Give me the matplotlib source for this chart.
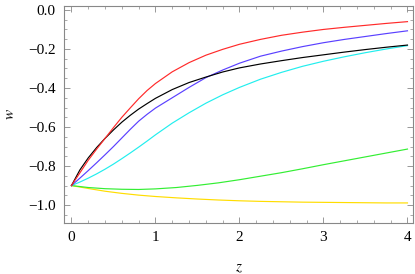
import numpy as np
import matplotlib.pyplot as plt
from matplotlib.ticker import MultipleLocator

plt.rcParams['font.family'] = ['Liberation Serif', 'DejaVu Serif']
plt.rcParams['mathtext.fontset'] = 'stix'

# values
z = [0, 0.1, 0.2, 0.3, 0.4, 0.5, 0.6, 0.7, 0.8, 0.9, 1.0, 1.2, 1.4, 1.6, 1.8,
     2.0, 2.25, 2.5, 2.75, 3.0, 3.25, 3.5, 3.75, 4.0]
w_red = [-0.9, -0.835, -0.77, -0.713, -0.658, -0.603, -0.55, -0.502, -0.455, -0.413,
         -0.377, -0.317, -0.27, -0.232, -0.202, -0.176, -0.151, -0.13, -0.114, -0.10,
         -0.089, -0.079, -0.069, -0.06]
w_black = [-0.9, -0.82, -0.758, -0.705, -0.658, -0.615, -0.575, -0.54, -0.508, -0.48,
           -0.453, -0.408, -0.372, -0.344, -0.318, -0.297, -0.277, -0.26, -0.244, -0.23,
           -0.216, -0.203, -0.191, -0.18]
w_blue = [-0.9, -0.862, -0.823, -0.783, -0.742, -0.70, -0.656, -0.612, -0.57, -0.535,
          -0.503, -0.45, -0.397, -0.347, -0.308, -0.273, -0.237, -0.211, -0.188, -0.168,
          -0.151, -0.136, -0.121, -0.107]
w_cyan = [-0.9, -0.882, -0.862, -0.84, -0.816, -0.79, -0.762, -0.733, -0.703, -0.672,
          -0.64, -0.58, -0.527, -0.478, -0.435, -0.397, -0.355, -0.32, -0.289, -0.263,
          -0.24, -0.219, -0.2, -0.183]

z2 = [0, 0.2, 0.4, 0.6, 0.8, 1.0, 1.25, 1.5, 1.75, 2.0, 2.25, 2.5, 2.75, 3.0, 3.25,
      3.5, 3.75, 4.0]
w_green = [-0.9, -0.91, -0.916, -0.919, -0.92, -0.917, -0.91, -0.899, -0.886, -0.87,
           -0.852, -0.834, -0.814, -0.793, -0.773, -0.753, -0.733, -0.713]
w_yellow = [-0.9, -0.915, -0.929, -0.94, -0.949, -0.956, -0.963, -0.969, -0.974, -0.978,
            -0.981, -0.983, -0.985, -0.986, -0.987, -0.988, -0.989, -0.989]

fig = plt.figure(figsize=(4.15, 2.74), dpi=100)
ax = fig.add_axes([0.154, 0.186, 0.841, 0.792])

lw = 0.85
ax.plot(z2, w_yellow, color='#ffdd00', lw=lw)
ax.plot(z2, w_green, color='#33ee33', lw=lw)
ax.plot(z, w_cyan, color='#22eeee', lw=lw)
ax.plot(z, w_blue, color='#5a40ff', lw=lw)
ax.plot(z, w_black, color='black', lw=lw)
ax.plot(z, w_red, color='#ff2a2a', lw=lw)

ax.set_xlim(-0.09, 4.065)
ax.set_ylim(-1.092, 0.02)

ax.xaxis.set_major_locator(MultipleLocator(1))
ax.xaxis.set_minor_locator(MultipleLocator(0.2))
ax.yaxis.set_major_locator(MultipleLocator(0.2))
ax.yaxis.set_minor_locator(MultipleLocator(0.05))

ax.tick_params(which='both', direction='in', top=True, right=True,
               color='#888888', labelsize=11, labelcolor='black')
ax.tick_params(which='major', length=4, width=0.6, pad=6)
ax.tick_params(which='minor', length=2.2, width=0.5)
for s in ax.spines.values():
    s.set_color('#888888')
    s.set_linewidth(0.8)

ax.set_xlabel('$z$', fontsize=11, labelpad=13)
ax.set_ylabel('$w$', fontsize=11, labelpad=8)

fig.savefig('out.png', dpi=100)
